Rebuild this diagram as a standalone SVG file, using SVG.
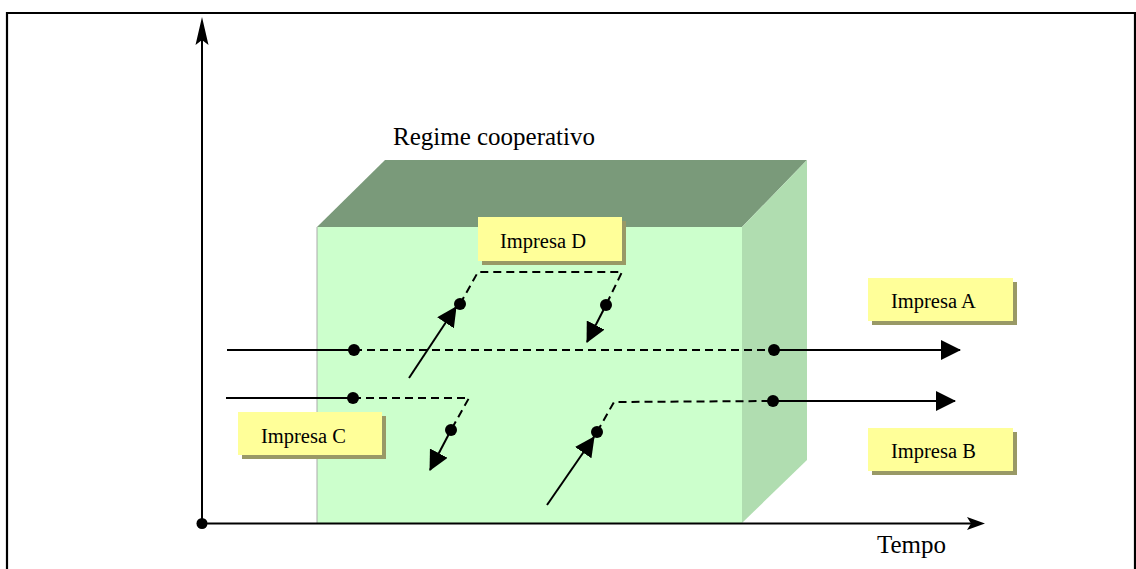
<svg xmlns="http://www.w3.org/2000/svg" width="1136" height="569" viewBox="0 0 1136 569">
<defs>
<marker id="tri" markerUnits="userSpaceOnUse" markerWidth="20" markerHeight="20" refX="19" refY="10" orient="auto" viewBox="0 0 20 20">
<path d="M0,0 L20,10 L0,20 z" fill="#000"/>
</marker>
<style>
.lbl{font-family:"Liberation Serif","Times New Roman",serif;fill:#000}
.box{fill:#FFFF99}
.shadow{fill:#999966}
.solid{stroke:#000;stroke-width:2;fill:none}
.dash{stroke:#000;stroke-width:2;fill:none;stroke-dasharray:8 5}
.dot{fill:#000}
</style>
</defs>
<rect width="1136" height="569" fill="#fff"/>
<path d="M7,569 V13 H1135 V569" fill="none" stroke="#000" stroke-width="2.2"/>

<g id="cube">
<polygon points="317,227 385,160 807,160 742,227" fill="#7A9A7A"/>
<polygon points="742,227 807,160 807,460 742,523" fill="#B0DDB0"/>
<rect x="317" y="227" width="425" height="296" fill="#CCFFCC"/>
<line x1="317" y1="227" x2="317" y2="523" stroke="#aaaaaa" stroke-width="1"/>
</g>

<g id="axes">
<line x1="202" y1="523.5" x2="975" y2="523.5" stroke="#000" stroke-width="2"/>
<path d="M985,523.5 L967,517 L971,523.5 L967,530 z" fill="#000"/>
<line x1="202" y1="523" x2="202" y2="35" stroke="#000" stroke-width="2"/>
<path d="M202,17 L195.5,45 L202,40 L208.5,45 z" fill="#000"/>
<circle cx="202" cy="523.5" r="5.5" fill="#000"/>
</g>

<text id="title" class="lbl" x="393" y="145" font-size="25">Regime cooperativo</text>
<text id="tempo" class="lbl" x="877" y="553" font-size="25">Tempo</text>

<g id="impresaD">
<rect class="shadow" x="482" y="221" width="144" height="44"/>
<rect class="box" x="478" y="217" width="144" height="44"/>
<text class="lbl" x="500" y="248" font-size="20.5">Impresa D</text>
</g>
<g id="impresaC">
<rect class="shadow" x="242" y="416" width="144" height="43"/>
<rect class="box" x="238" y="412" width="144" height="43"/>
<text class="lbl" x="261" y="443" font-size="20.5">Impresa C</text>
</g>
<g id="impresaA">
<rect class="shadow" x="872" y="282" width="145" height="43"/>
<rect class="box" x="868" y="278" width="145" height="43"/>
<text class="lbl" x="891" y="308" font-size="20.5">Impresa A</text>
</g>
<g id="impresaB">
<rect class="shadow" x="872" y="432" width="145" height="43"/>
<rect class="box" x="868" y="428" width="145" height="43"/>
<text class="lbl" x="891" y="458" font-size="20.5">Impresa B</text>
</g>

<g id="connectors">
<line class="solid" x1="227" y1="350" x2="354" y2="350"/>
<line class="dash" x1="354" y1="350" x2="774" y2="350"/>
<line class="solid" x1="774" y1="350" x2="960" y2="350" marker-end="url(#tri)"/>
<line class="solid" x1="226" y1="398" x2="353" y2="398"/>
<polyline class="dash" points="353,398 469,398 451,430"/>
<line class="solid" x1="451" y1="430" x2="430" y2="470" marker-end="url(#tri)"/>
<line class="solid" x1="409" y1="378" x2="456" y2="307" marker-end="url(#tri)"/>
<polyline class="dash" points="460,304 478,272 622,272 606,305"/>
<line class="solid" x1="606" y1="305" x2="587" y2="342" marker-end="url(#tri)"/>
<line class="solid" x1="547" y1="505" x2="594" y2="437" marker-end="url(#tri)"/>
<polyline class="dash" points="597,432 614,402 773,401"/>
<line class="solid" x1="773" y1="401" x2="955" y2="401" marker-end="url(#tri)"/>
<circle class="dot" cx="354" cy="350" r="6"/>
<circle class="dot" cx="774" cy="350" r="6"/>
<circle class="dot" cx="353" cy="398" r="6"/>
<circle class="dot" cx="451" cy="430" r="6"/>
<circle class="dot" cx="460" cy="304" r="6"/>
<circle class="dot" cx="606" cy="305" r="6"/>
<circle class="dot" cx="597" cy="432" r="6"/>
<circle class="dot" cx="773" cy="401" r="6"/>
</g>
</svg>
